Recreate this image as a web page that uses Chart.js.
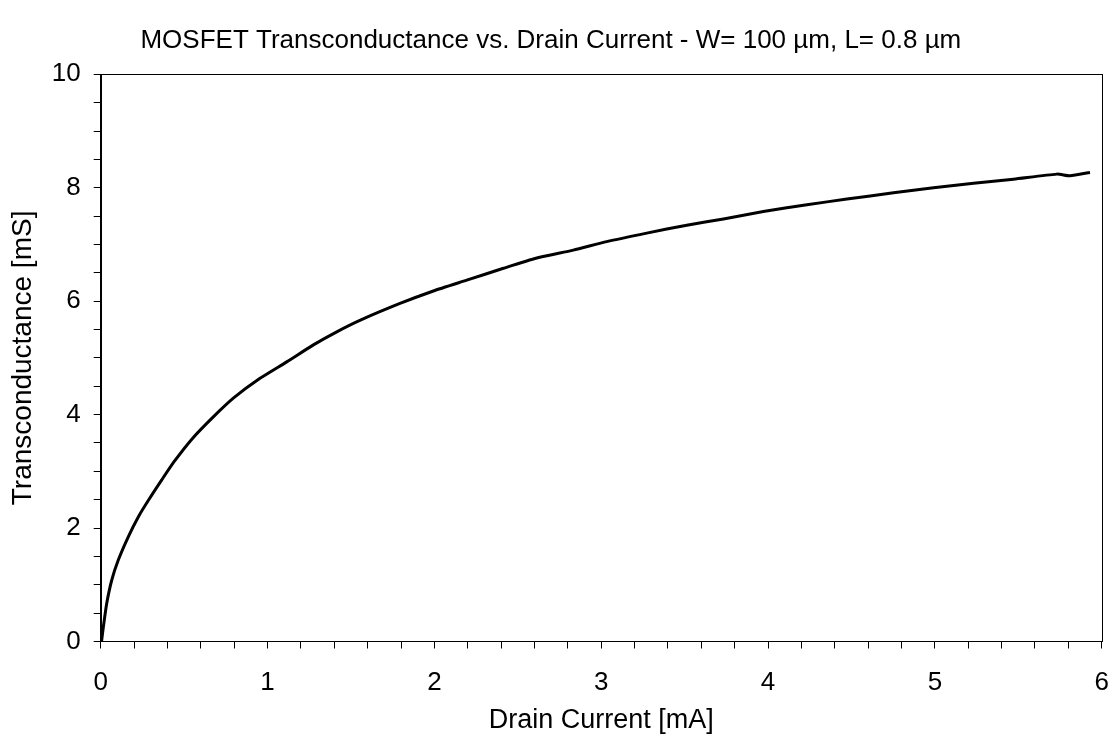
<!DOCTYPE html>
<html>
<head>
<meta charset="utf-8">
<script src="https://cdn.jsdelivr.net/npm/chart.js@4/dist/chart.umd.min.js"></script>
<style>
  html, body { margin: 0; padding: 0; background: #ffffff; }
  #wrap { width: 1110px; height: 740px; }
</style>
</head>
<body>
<div id="wrap"><canvas id="c" width="1110" height="740"></canvas></div>
<script>
// Drain current [mA]
const drainCurrent = [0.005, 0.016, 0.036, 0.066, 0.106, 0.166, 0.226, 0.286, 0.366, 0.44, 0.55, 0.675, 0.795, 0.955, 1.115, 1.275, 1.415, 1.56, 1.794, 1.994, 2.194, 2.414, 2.614, 2.833, 3.033, 3.273, 3.513, 3.733, 3.972, 4.233, 4.473, 4.752, 4.992, 5.232, 5.471, 5.731, 5.81, 5.93];
// Transconductance [mS]
const transconductance = [0.0, 0.26, 0.67, 1.08, 1.44, 1.85, 2.20, 2.49, 2.85, 3.17, 3.58, 3.96, 4.29, 4.64, 4.93, 5.23, 5.46, 5.67, 5.96, 6.18, 6.37, 6.58, 6.76, 6.90, 7.05, 7.20, 7.34, 7.45, 7.58, 7.70, 7.80, 7.91, 8.00, 8.08, 8.15, 8.24, 8.21, 8.27];

const xRange = [0, 6];
const yRange = [0, 10];
const xMajorStep = 1, xMinorStep = 0.2;
const yMajorStep = 2, yMinorStep = 0.5;

const titleText = 'MOSFET Transconductance vs. Drain Current - W= 100 \u00B5m, L= 0.8 \u00B5m';
const xTitle = 'Drain Current [mA]';
const yTitle = 'Transconductance [mS]';

const FONT = '"Liberation Sans", Arial, Helvetica, sans-serif';

const points = drainCurrent.map((x, i) => ({ x: x, y: transconductance[i] }));

function isMultiple(v, step) {
  const r = v / step;
  return Math.abs(r - Math.round(r)) < 1e-6;
}

const frame = {
  id: 'frame',
  afterDraw(chart) {
    const a = chart.chartArea, ctx = chart.ctx;
    ctx.save();
    ctx.strokeStyle = '#000';
    ctx.lineWidth = 1;
    ctx.strokeRect(Math.round(a.left) + 0.5, Math.round(a.top) + 0.5, Math.round(a.right - a.left), Math.round(a.bottom - a.top));
    ctx.restore();
  }
};

new Chart(document.getElementById('c'), {
  type: 'line',
  data: {
    datasets: [{
      data: points,
      borderColor: '#000',
      borderWidth: 3,
      pointRadius: 0,
      tension: 0.2,
      fill: false
    }]
  },
  options: {
    responsive: false,
    animation: false,
    layout: { autoPadding: false, padding: { left: 0, right: 8.3, top: 0, bottom: 0 } },
    plugins: {
      legend: { display: false },
      tooltip: { enabled: false },
      title: {
        display: true,
        text: titleText,
        color: '#000',
        font: { family: FONT, size: 26, weight: 'normal', lineHeight: 1.2 },
        padding: { top: 25.4, bottom: 17.7 }
      }
    },
    scales: {
      x: {
        type: 'linear',
        min: xRange[0], max: xRange[1],
        afterFit: s => { s.height = 740 - 641.5; s.paddingLeft = 0; s.paddingRight = 0; },
        afterBuildTicks: s => {
          const t = [];
          for (let v = xRange[0]; v <= xRange[1] + 1e-9; v += xMinorStep) t.push({ value: Math.round(v * 1000) / 1000 });
          s.ticks = t;
        },
        ticks: {
          color: '#000',
          font: { family: FONT, size: 26 },
          padding: 19,
          maxRotation: 0,
          autoSkip: false,
          callback: v => isMultiple(v, xMajorStep) ? String(Math.round(v)) : ''
        },
        grid: { drawOnChartArea: false, drawTicks: true, tickLength: 7, color: '#000', lineWidth: 1 },
        border: { display: true, color: '#000', width: 1 },
        title: {
          display: true, text: xTitle, color: '#000',
          font: { family: FONT, size: 27 }, padding: { top: 4, bottom: 3 }
        }
      },
      y: {
        type: 'linear',
        min: yRange[0], max: yRange[1],
        afterFit: s => { s.width = 100.7; },
        afterBuildTicks: s => {
          const t = [];
          for (let v = yRange[0]; v <= yRange[1] + 1e-9; v += yMinorStep) t.push({ value: Math.round(v * 1000) / 1000 });
          s.ticks = t;
        },
        ticks: {
          color: '#000',
          font: { family: FONT, size: 26 },
          padding: 13,
          autoSkip: false,
          callback: v => isMultiple(v, yMajorStep) ? String(Math.round(v)) : ''
        },
        grid: { drawOnChartArea: false, drawTicks: true, tickLength: 7, color: '#000', lineWidth: 1 },
        border: { display: true, color: '#000', width: 1 },
        title: {
          display: true, text: yTitle, color: '#000',
          font: { family: FONT, size: 28 }, padding: { top: 6, bottom: 0 }
        }
      }
    }
  },
  plugins: [frame]
});
</script>
</body>
</html>
